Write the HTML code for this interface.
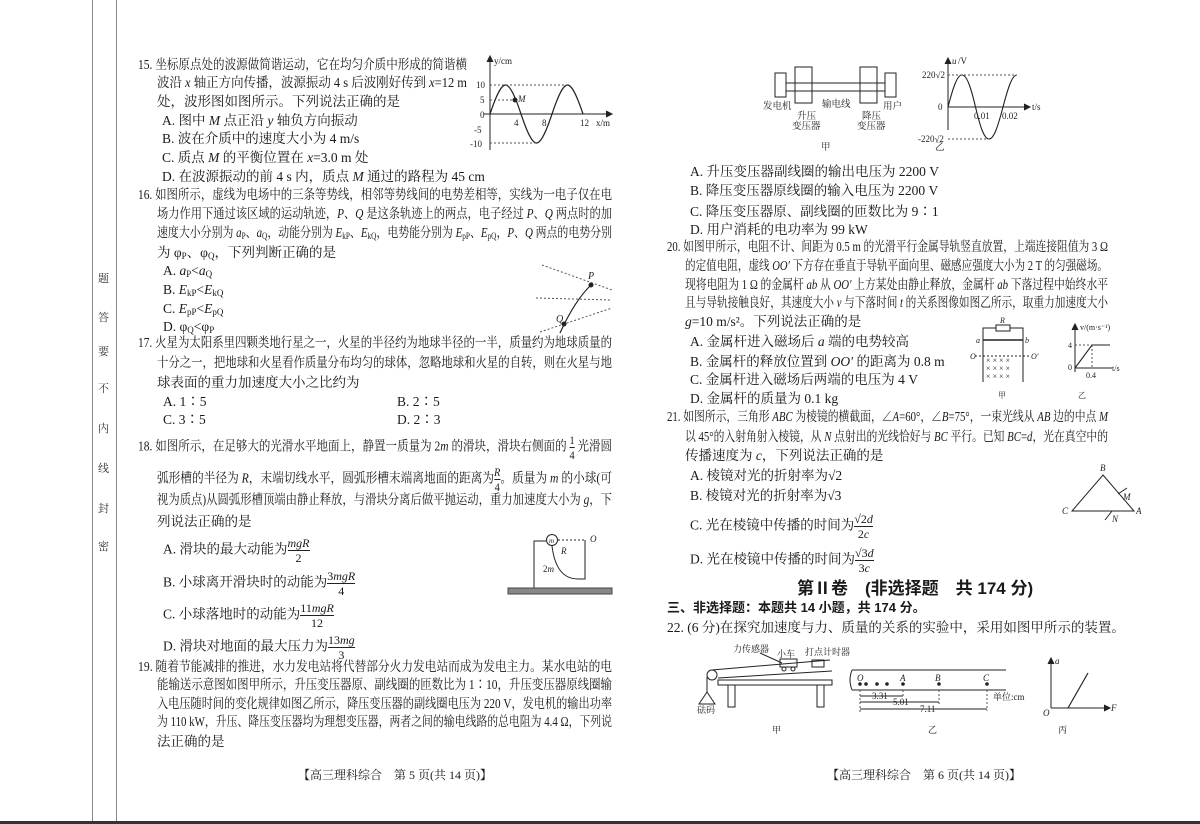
<!DOCTYPE html>
<html><head><meta charset="utf-8"><style>
body{margin:0;background:#fff}
#p{position:relative;width:1200px;height:824px;overflow:hidden;background:#fff;font-family:"Liberation Serif","Noto Serif CJK SC",serif;color:#1a1a1a;font-size:13.5px}
.l{position:absolute;line-height:20px;height:20px;white-space:nowrap}
.j{white-space:nowrap;display:inline-block}
i{font-style:italic}
sub{font-size:9px;vertical-align:-2px;letter-spacing:0}
.fr{display:inline-block;vertical-align:middle;text-align:center;line-height:14px;font-size:12px;letter-spacing:0}
.fr span{display:block}
.fr span:first-child{border-bottom:1px solid #222}
.m{position:absolute;left:98px;font-size:11px;color:#333}
svg{position:absolute;left:0;top:0}
svg text{font-family:"Liberation Serif","Noto Serif CJK SC",serif;fill:#222}
</style></head><body><div id="p">
<div style="position:absolute;left:92px;top:0;width:1px;height:824px;background:#888"></div>
<div style="position:absolute;left:116px;top:0;width:1px;height:824px;background:#888"></div>
<div style="position:absolute;left:0;top:821px;width:1200px;height:3px;background:#333"></div>
<div class="m" style="top:270px">题</div><div class="m" style="top:309px">答</div><div class="m" style="top:343px">要</div><div class="m" style="top:380px">不</div><div class="m" style="top:420px">内</div><div class="m" style="top:460px">线</div><div class="m" style="top:500px">封</div><div class="m" style="top:538px">密</div>

<!-- Left column -->
<div class="l j" data-w="329" style="left:138px;top:55px">15. 坐标原点处的波源做简谐运动，它在均匀介质中形成的简谐横</div>
<div class="l j" data-w="310" style="left:157px;top:73px">波沿 <i>x</i> 轴正方向传播，波源振动 4 s 后波刚好传到 <i>x</i>=12 m</div>
<div class="l" style="left:157px;top:92px">处，波形图如图所示。下列说法正确的是</div>
<div class="l" style="left:162px;top:111px">A. 图中 <i>M</i> 点正沿 <i>y</i> 轴负方向振动</div>
<div class="l" style="left:162px;top:129px">B. 波在介质中的速度大小为 4 m/s</div>
<div class="l" style="left:162px;top:148px">C. 质点 <i>M</i> 的平衡位置在 <i>x</i>=3.0 m 处</div>
<div class="l" style="left:162px;top:167px">D. 在波源振动的前 4 s 内，质点 <i>M</i> 通过的路程为 45 cm</div>

<div class="l j" data-w="474" style="left:138px;top:185px">16. 如图所示，虚线为电场中的三条等势线，相邻等势线间的电势差相等，实线为一电子仅在电</div>
<div class="l j" data-w="455" style="left:157px;top:204px">场力作用下通过该区域的运动轨迹，<i>P</i>、<i>Q</i> 是这条轨迹上的两点，电子经过 <i>P</i>、<i>Q</i> 两点时的加</div>
<div class="l j" data-w="455" style="left:157px;top:223px">速度大小分别为 <i>a</i><sub>P</sub>、<i>a</i><sub>Q</sub>，动能分别为 <i>E</i><sub>kP</sub>、<i>E</i><sub>kQ</sub>，电势能分别为 <i>E</i><sub>pP</sub>、<i>E</i><sub>pQ</sub>，<i>P</i>、<i>Q</i> 两点的电势分别</div>
<div class="l" style="left:157px;top:243px">为 φ<sub>P</sub>、φ<sub>Q</sub>，下列判断正确的是</div>
<div class="l" style="left:163px;top:261px">A. <i>a</i><sub>P</sub>&lt;<i>a</i><sub>Q</sub></div>
<div class="l" style="left:163px;top:280px">B. <i>E</i><sub>kP</sub>&lt;<i>E</i><sub>kQ</sub></div>
<div class="l" style="left:163px;top:299px">C. <i>E</i><sub>pP</sub>&lt;<i>E</i><sub>pQ</sub></div>
<div class="l" style="left:163px;top:317px">D. φ<sub>Q</sub>&lt;φ<sub>P</sub></div>

<div class="l j" data-w="474" style="left:138px;top:333px">17. 火星为太阳系里四颗类地行星之一，火星的半径约为地球半径的一半，质量约为地球质量的</div>
<div class="l j" data-w="455" style="left:157px;top:353px">十分之一，把地球和火星看作质量分布均匀的球体，忽略地球和火星的自转，则在火星与地</div>
<div class="l" style="left:157px;top:373px">球表面的重力加速度大小之比约为</div>
<div class="l" style="left:163px;top:392px">A. 1∶5</div><div class="l" style="left:397px;top:392px">B. 2∶5</div>
<div class="l" style="left:163px;top:410px">C. 3∶5</div><div class="l" style="left:397px;top:410px">D. 2∶3</div>

<div class="l j" data-w="474" style="left:138px;top:433px">18. 如图所示，在足够大的光滑水平地面上，静置一质量为 2<i>m</i> 的滑块，滑块右侧面的 <span class="fr"><span>1</span><span>4</span></span> 光滑圆</div>
<div class="l j" data-w="455" style="left:157px;top:465px">弧形槽的半径为 <i>R</i>，末端切线水平，圆弧形槽末端离地面的距离为<span class="fr"><span><i>R</i></span><span>4</span></span>。质量为 <i>m</i> 的小球(可</div>
<div class="l j" data-w="455" style="left:157px;top:490px">视为质点)从圆弧形槽顶端由静止释放，与滑块分离后做平抛运动，重力加速度大小为 <i>g</i>，下</div>
<div class="l" style="left:157px;top:512px">列说法正确的是</div>
<div class="l" style="left:163px;top:536px">A. 滑块的最大动能为<span class="fr"><span><i>mgR</i></span><span>2</span></span></div>
<div class="l" style="left:163px;top:569px">B. 小球离开滑块时的动能为<span class="fr"><span>3<i>mgR</i></span><span>4</span></span></div>
<div class="l" style="left:163px;top:601px">C. 小球落地时的动能为<span class="fr"><span>11<i>mgR</i></span><span>12</span></span></div>
<div class="l" style="left:163px;top:633px">D. 滑块对地面的最大压力为<span class="fr"><span>13<i>mg</i></span><span>3</span></span></div>

<div class="l j" data-w="474" style="left:138px;top:657px">19. 随着节能减排的推进，水力发电站将代替部分火力发电站而成为发电主力。某水电站的电</div>
<div class="l j" data-w="455" style="left:157px;top:675px">能输送示意图如图甲所示，升压变压器原、副线圈的匝数比为 1∶10，升压变压器原线圈输</div>
<div class="l j" data-w="455" style="left:157px;top:694px">入电压随时间的变化规律如图乙所示，降压变压器的副线圈电压为 220 V，发电机的输出功率</div>
<div class="l j" data-w="455" style="left:157px;top:712px">为 110 kW，升压、降压变压器均为理想变压器，两者之间的输电线路的总电阻为 4.4 Ω，下列说</div>
<div class="l" style="left:157px;top:732px">法正确的是</div>
<div class="l" style="left:298px;top:765px;font-size:12px">【高三理科综合　第 5 页(共 14 页)】</div>

<!-- Right column -->
<div class="l" style="left:690px;top:162px">A. 升压变压器副线圈的输出电压为 2200 V</div>
<div class="l" style="left:690px;top:181px">B. 降压变压器原线圈的输入电压为 2200 V</div>
<div class="l" style="left:690px;top:202px">C. 降压变压器原、副线圈的匝数比为 9∶1</div>
<div class="l" style="left:690px;top:220px">D. 用户消耗的电功率为 99 kW</div>
<div class="l j" data-w="441" style="left:667px;top:237px">20. 如图甲所示，电阻不计、间距为 0.5 m 的光滑平行金属导轨竖直放置，上端连接阻值为 3 Ω</div>
<div class="l j" data-w="423" style="left:685px;top:256px">的定值电阻，虚线 <i>OO′</i> 下方存在垂直于导轨平面向里、磁感应强度大小为 2 T 的匀强磁场。</div>
<div class="l j" data-w="423" style="left:685px;top:275px">现将电阻为 1 Ω 的金属杆 <i>ab</i> 从 <i>OO′</i> 上方某处由静止释放，金属杆 <i>ab</i> 下落过程中始终水平</div>
<div class="l j" data-w="423" style="left:685px;top:293px">且与导轨接触良好，其速度大小 <i>v</i> 与下落时间 <i>t</i> 的关系图像如图乙所示，取重力加速度大小</div>
<div class="l" style="left:685px;top:312px"><i>g</i>=10 m/s²。下列说法正确的是</div>
<div class="l" style="left:690px;top:332px">A. 金属杆进入磁场后 <i>a</i> 端的电势较高</div>
<div class="l" style="left:690px;top:352px">B. 金属杆的释放位置到 <i>OO′</i> 的距离为 0.8 m</div>
<div class="l" style="left:690px;top:370px">C. 金属杆进入磁场后两端的电压为 4 V</div>
<div class="l" style="left:690px;top:389px">D. 金属杆的质量为 0.1 kg</div>
<div class="l j" data-w="441" style="left:667px;top:407px">21. 如图所示，三角形 <i>ABC</i> 为棱镜的横截面，∠<i>A</i>=60°，∠<i>B</i>=75°，一束光线从 <i>AB</i> 边的中点 <i>M</i></div>
<div class="l j" data-w="423" style="left:685px;top:427px">以 45°的入射角射入棱镜，从 <i>N</i> 点射出的光线恰好与 <i>BC</i> 平行。已知 <i>BC</i>=<i>d</i>，光在真空中的</div>
<div class="l" style="left:685px;top:446px">传播速度为 <i>c</i>，下列说法正确的是</div>
<div class="l" style="left:690px;top:466px">A. 棱镜对光的折射率为√2</div>
<div class="l" style="left:690px;top:486px">B. 棱镜对光的折射率为√3</div>
<div class="l" style="left:690px;top:512px">C. 光在棱镜中传播的时间为<span class="fr"><span>√2<i>d</i></span><span>2<i>c</i></span></span></div>
<div class="l" style="left:690px;top:546px">D. 光在棱镜中传播的时间为<span class="fr"><span>√3<i>d</i></span><span>3<i>c</i></span></span></div>
<div class="l" style="left:797px;top:578px;font-size:17px;font-weight:bold;line-height:22px;font-family:'Liberation Sans','Noto Sans CJK SC',sans-serif">第Ⅱ卷　(非选择题　共 174 分)</div>
<div class="l" style="left:667px;top:598px;font-weight:bold;font-family:'Liberation Sans','Noto Sans CJK SC',sans-serif;font-size:13px">三、非选择题：本题共 14 小题，共 174 分。</div>
<div class="l" style="left:667px;top:618px">22. (6 分)在探究加速度与力、质量的关系的实验中，采用如图甲所示的装置。</div>
<div class="l" style="left:827px;top:765px;font-size:12px">【高三理科综合　第 6 页(共 14 页)】</div>

<svg width="1200" height="824" viewBox="0 0 1200 824" fill="none" stroke="#222" stroke-width="1">
<g font-size="9">
<line x1="490" y1="150" x2="490" y2="58"/><path d="M487,62 L490,56 L493,62" fill="#222"/>
<line x1="484" y1="114" x2="610" y2="114"/><path d="M606,111 L612,114 L606,117" fill="#222"/>
<path d="M490,114 C496,96 501,85 505.5,85 C510,85 515,96 521,114 C527,132 532,143 536.5,143 C541,143 546,132 552,114 C558,96 563,85 567.5,85 C572,85 577,96 583,114" stroke-width="1.2"/>
<g stroke-dasharray="2,2" stroke="#555"><line x1="490" y1="85" x2="567" y2="85"/><line x1="490" y1="100" x2="515" y2="100"/><line x1="490" y1="143" x2="536" y2="143"/></g>
<circle cx="515" cy="100" r="2" fill="#222"/>
<text x="494" y="64" stroke="none">y/cm</text><text x="476" y="88" stroke="none">10</text><text x="480" y="103" stroke="none">5</text><text x="480" y="118" stroke="none">0</text><text x="474" y="133" stroke="none">-5</text><text x="470" y="147" stroke="none">-10</text>
<text x="518" y="102" stroke="none" font-style="italic">M</text><text x="514" y="126" stroke="none">4</text><text x="542" y="126" stroke="none">8</text><text x="580" y="126" stroke="none">12</text><text x="596" y="126" stroke="none">x/m</text>
</g>
<g stroke-dasharray="2,2" stroke="#555"><line x1="542" y1="265" x2="612" y2="290"/><line x1="536" y1="298" x2="612" y2="300"/><line x1="540" y1="332" x2="612" y2="308"/></g>
<path d="M560,333 Q575,300 592,284" stroke-width="1.2"/>
<circle cx="591" cy="285" r="2" fill="#222"/><circle cx="564" cy="324" r="2" fill="#222"/>
<text x="588" y="279" font-size="10" font-style="italic" stroke="none">P</text><text x="556" y="322" font-size="10" font-style="italic" stroke="none">Q</text>
<path d="M534,588 L534,541 L546,541 M585,541 L585,579 L578,579 Q556,579 552,546"/>
<circle cx="552" cy="540" r="5.5"/><text x="549" y="543" font-size="7" font-style="italic" stroke="none">m</text>
<line x1="558" y1="540" x2="586" y2="540" stroke-dasharray="2,2"/><line x1="585" y1="540" x2="585" y2="560" stroke-dasharray="2,2"/>
<text x="590" y="542" font-size="9" font-style="italic" stroke="none">O</text><text x="561" y="554" font-size="9" font-style="italic" stroke="none">R</text><text x="543" y="572" font-size="9" stroke="none">2<tspan font-style="italic">m</tspan></text>
<rect x="508" y="588" width="104" height="6" fill="#888" stroke="#444"/>
<rect x="775" y="73" width="11" height="24"/><rect x="795" y="67" width="17" height="36"/><rect x="860" y="67" width="17" height="36"/><rect x="885" y="73" width="11" height="24"/>
<line x1="786" y1="83" x2="885" y2="83"/><line x1="786" y1="91" x2="885" y2="91"/>
<g font-size="9.5" stroke="none"><text x="763" y="109">发电机</text><text x="822" y="107">输电线</text><text x="883" y="109">用户</text><text x="797" y="119">升压</text><text x="792" y="129">变压器</text><text x="862" y="119">降压</text><text x="857" y="129">变压器</text><text x="821" y="150">甲</text><text x="935" y="150">乙</text></g>
<line x1="948" y1="130" x2="948" y2="60"/><path d="M945,64 L948,58 L951,64" fill="#222"/>
<line x1="948" y1="107" x2="1028" y2="107"/><path d="M1024,104 L1030,107 L1024,110" fill="#222"/>
<path d="M948,107 C953,88 957,75 962,75 C967,75 971,88 975.5,107 C980,126 984,139 989,139 C994,139 998,126 1003,107 C1008,88 1012,75 1017,75" stroke-width="1.1"/>
<g stroke-dasharray="2,2" stroke="#555"><line x1="948" y1="75" x2="1017" y2="75"/><line x1="948" y1="139" x2="989" y2="139"/></g>
<g font-size="9" stroke="none"><text x="952" y="64" font-style="italic">u</text><text x="958" y="64">/V</text><text x="922" y="78">220√2</text><text x="938" y="110">0</text><text x="918" y="142">-220√2</text><text x="974" y="119">0.01</text><text x="1002" y="119">0.02</text><text x="1032" y="110">t/s</text></g>
<path d="M983,382 L983,328 L996,328 M1010,328 L1023,328 L1023,382"/><rect x="996" y="325" width="14" height="6"/>
<line x1="983" y1="340" x2="1023" y2="340" stroke-width="1.5"/>
<line x1="975" y1="356" x2="1031" y2="356" stroke-dasharray="2,2"/>
<g font-size="8" stroke="none"><text x="986" y="363">× × × ×</text><text x="986" y="371">× × × ×</text><text x="986" y="379">× × × ×</text>
<text x="1000" y="323" font-style="italic">R</text><text x="976" y="343" font-style="italic">a</text><text x="1025" y="343" font-style="italic">b</text><text x="970" y="359" font-style="italic">O</text><text x="1031" y="359" font-style="italic">O′</text><text x="998" y="398">甲</text><text x="1078" y="398">乙</text></g>
<line x1="1075" y1="372" x2="1075" y2="326"/><path d="M1072,330 L1075,324 L1078,330" fill="#222"/>
<line x1="1075" y1="368" x2="1112" y2="368"/>
<path d="M1075,368 L1092,345 L1110,345" stroke-width="1.1"/>
<g stroke-dasharray="2,2" stroke="#555"><line x1="1075" y1="345" x2="1092" y2="345"/><line x1="1092" y1="345" x2="1092" y2="368"/></g>
<g font-size="8" stroke="none"><text x="1080" y="330">v/(m·s⁻¹)</text><text x="1068" y="348">4</text><text x="1068" y="370">0</text><text x="1086" y="378">0.4</text><text x="1112" y="371">t/s</text></g>
<path d="M1072,511 L1103,475 L1134,511 Z" />
<line x1="1072" y1="511" x2="1134" y2="511" stroke-dasharray="1,1"/>
<line x1="1127" y1="488" x2="1118" y2="494"/><line x1="1112" y1="511" x2="1105" y2="520"/>
<g font-size="9" font-style="italic" stroke="none"><text x="1100" y="471">B</text><text x="1062" y="514">C</text><text x="1136" y="514">A</text><text x="1123" y="500">M</text><text x="1112" y="522">N</text></g>
<circle cx="712" cy="675" r="5"/>
<line x1="712" y1="670" x2="830" y2="660"/><line x1="718" y1="678" x2="832" y2="671"/>
<rect x="718" y="680" width="114" height="5"/>
<rect x="728" y="685" width="7" height="22"/><rect x="817" y="685" width="7" height="22"/>
<line x1="707" y1="677" x2="707" y2="692"/><path d="M699,704 L707,692 L715,704 Z"/>
<rect x="780" y="659" width="17" height="8"/><circle cx="784" cy="669" r="2"/><circle cx="793" cy="669" r="2"/>
<rect x="812" y="660" width="12" height="7"/>
<line x1="760" y1="653" x2="782" y2="663"/>
<g font-size="9" stroke="none"><text x="733" y="652">力传感器</text><text x="777" y="657">小车</text><text x="805" y="655">打点计时器</text><text x="697" y="713">砝码</text><text x="772" y="733">甲</text><text x="928" y="733">乙</text><text x="1058" y="733">丙</text></g>
<path d="M852,670 L1006,670 M852,690 L1006,690 M852,670 Q848,680 852,690"/>
<g fill="#222"><circle cx="860" cy="684" r="1.3"/><circle cx="866" cy="684" r="1.3"/><circle cx="877" cy="684" r="1.3"/><circle cx="887" cy="684" r="1.3"/><circle cx="903" cy="684" r="1.3"/><circle cx="939" cy="684" r="1.3"/><circle cx="987" cy="684" r="1.3"/></g>
<g stroke-dasharray="2,2" stroke="#555"><line x1="860" y1="690" x2="860" y2="712"/><line x1="903" y1="690" x2="903" y2="697"/><line x1="939" y1="690" x2="939" y2="704"/><line x1="987" y1="690" x2="987" y2="711"/></g>
<line x1="860" y1="696" x2="903" y2="696"/><line x1="860" y1="702" x2="939" y2="702"/><line x1="860" y1="709" x2="987" y2="709"/>
<g font-size="9" stroke="none"><text x="857" y="681" font-style="italic">O</text><text x="900" y="681" font-style="italic">A</text><text x="935" y="681" font-style="italic">B</text><text x="983" y="681" font-style="italic">C</text><text x="872" y="699">3.31</text><text x="893" y="705">5.01</text><text x="920" y="712">7.11</text><text x="993" y="700">单位:cm</text></g>
<line x1="1051" y1="708" x2="1051" y2="660"/><path d="M1048,664 L1051,658 L1054,664" fill="#222"/>
<line x1="1051" y1="708" x2="1108" y2="708"/><path d="M1104,705 L1110,708 L1104,711" fill="#222"/>
<line x1="1068" y1="708" x2="1088" y2="673" stroke-width="1.2"/>
<g font-size="9" font-style="italic" stroke="none"><text x="1055" y="664">a</text><text x="1043" y="716">O</text><text x="1111" y="711">F</text></g>
</svg>
</div>
<script>
document.querySelectorAll('.j').forEach(function(e){
  var w=parseFloat(e.getAttribute('data-w'));
  var nat=e.getBoundingClientRect().width;
  var n=e.textContent.length;
  if(nat<w){e.style.letterSpacing=((w-nat)/Math.max(1,n-1))+'px';}
  else{e.style.transformOrigin='0 0';e.style.transform='scaleX('+(w/nat)+')';}
});
</script>
</body></html>
